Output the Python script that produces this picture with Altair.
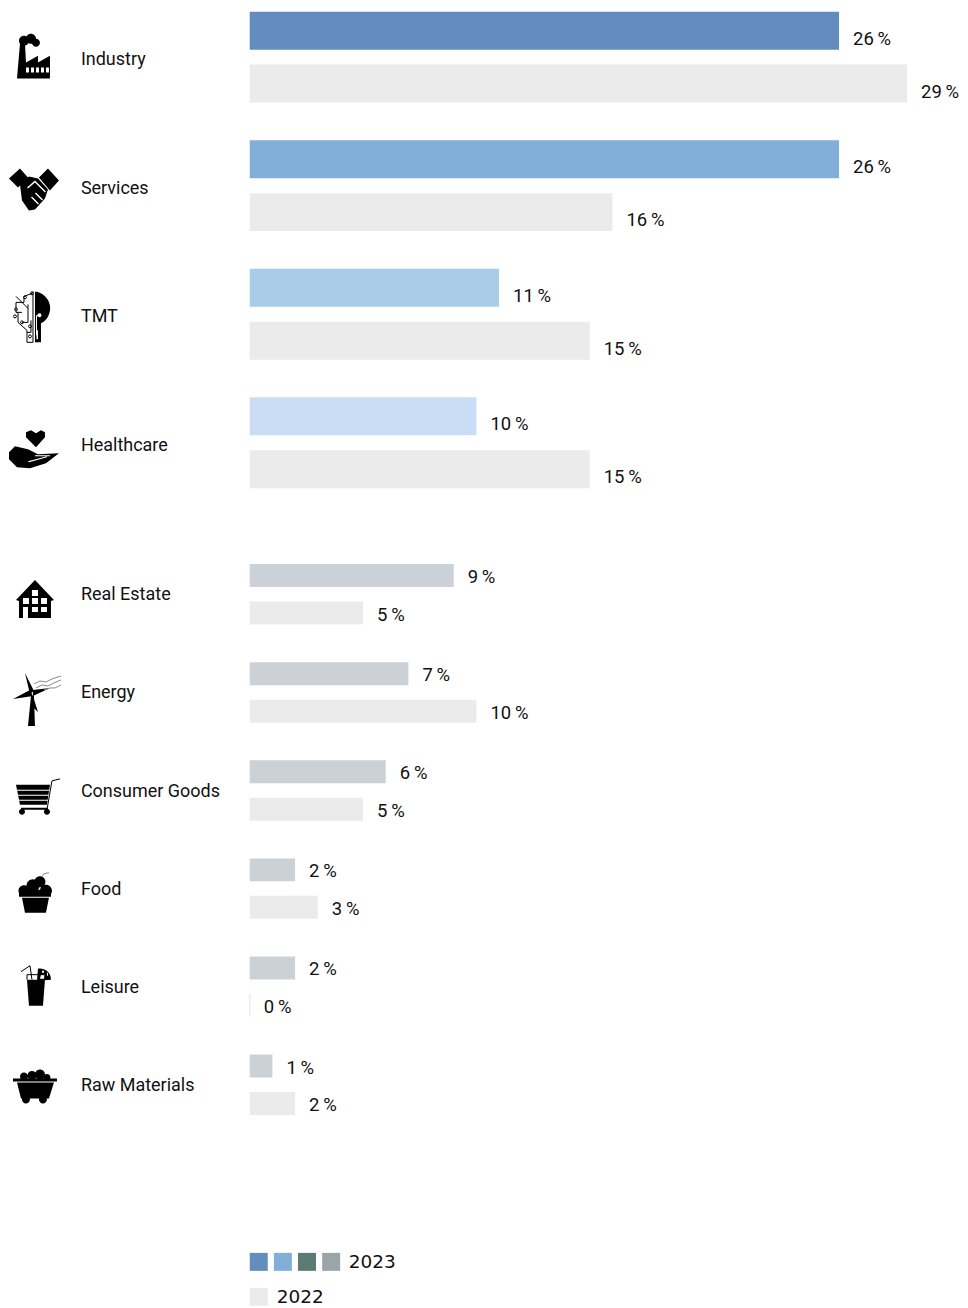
import altair as alt
import pandas as pd

main_categories = ["Industry", "Services", "TMT", "Healthcare"]
main_2023 = [26, 26, 11, 10]
main_2022 = [29, 16, 15, 15]
main_colors = ["#638DBE", "#81AFDA", "#A9CCE9", "#CBDDF4"]

other_categories = ["Real Estate", "Energy", "Consumer Goods", "Food", "Leisure", "Raw Materials"]
other_2023 = [9, 7, 6, 2, 2, 1]
other_2022 = [5, 10, 5, 3, 0, 2]
other_color = "#CBD1D6"
color_2022 = "#EBEBEB"

legend_2023 = ["#638DBE", "#81AFDA", "#5D7B73", "#98A5A9"]
legend_2022 = ["#EBEBEB"]

FONT = "Roboto"
TEXT = "#111111"
ICON_X = 34 - 8
LABEL_X = 81 - 8
X_SCALE = alt.Scale(domain=[0, 29], range=[242, 900])


def poly(cy, pts):
    p = [f"{x - 34} {y - cy}" for x, y in pts]
    return "M" + "L".join(p) + "Z"


def line(cy, pts):
    p = [f"{x - 34} {y - cy}" for x, y in pts]
    return "M" + "L".join(p)


def circ(cy, x, y, r):
    a, b = x - 34, y - cy
    return f"M{a - r} {b}A{r} {r} 0 1 1 {a + r} {b}A{r} {r} 0 1 1 {a - r} {b}Z"


def rect(cy, x0, y0, x1, y1):
    return poly(cy, [(x0, y0), (x1, y0), (x1, y1), (x0, y1)])


ic_black = {}
ic_white = {}
ic_line = {}
ic_gray = {}

c = 56.5
ic_black["Industry"] = poly(c, [(17, 78), (20, 43), (25, 43), (26, 62), (38, 55), (38, 62), (50, 55), (50, 78)]) + circ(c, 24, 40, 5) + circ(c, 31, 38, 5) + circ(c, 36, 42, 4)
ic_white["Industry"] = "".join(rect(c, x, 67, x + 3, 72) for x in (26, 31, 36, 41, 46))
ic_line["Industry"] = ""
ic_gray["Industry"] = ""

c = 185.17
ic_black["Services"] = poly(c, [(9, 178), (20, 168), (28, 177), (18, 187)]) + poly(c, [(39, 177), (48, 168), (59, 180), (50, 190)]) + poly(c, [(20, 184), (29, 176), (38, 178), (48, 189), (45, 198), (35, 209), (29, 210), (22, 200)])
ic_white["Services"] = poly(c, [(27, 187), (35, 180), (46, 191), (45, 192), (35, 182), (28, 188)]) + poly(c, [(36, 192), (43, 199), (42, 200), (35, 193)]) + poly(c, [(32, 196), (39, 203), (38, 204), (31, 197)])
ic_line["Services"] = ""
ic_gray["Services"] = ""

c = 313.83
ic_black["TMT"] = f"M{35 - 34} {291 - c}A17 17 0 0 1 {41 - 34} {323 - c}L{41 - 34} {342 - c}L{35 - 34} {342 - c}Z"
ic_white["TMT"] = rect(c, 36, 315, 39, 316) + rect(c, 36, 316, 37, 335) + circ(c, 39.5, 315, 2) + rect(c, 36.5, 330, 38, 339)
ic_line["TMT"] = (line(c, [(33, 291), (33, 342), (27, 342), (27, 330), (18, 322), (18, 312)]) + line(c, [(32, 293), (24, 296), (24, 302), (16, 302), (16, 312), (22, 312)])
                  + line(c, [(28, 304), (28, 322), (22, 322)]) + line(c, [(31, 320), (31, 332), (27, 332)]) + line(c, [(16, 296), (28, 308)])
                  + circ(c, 32, 293, 1.5) + circ(c, 25, 297, 1.5) + circ(c, 16, 309, 1.5) + circ(c, 15, 316, 1.5) + circ(c, 22, 322, 1.5) + circ(c, 30, 326, 1.5) + circ(c, 30, 336, 1.5))
ic_gray["TMT"] = ""

c = 442.5
ic_black["Healthcare"] = (poly(c, [(36, 447), (26, 437), (26, 432), (31, 430), (36, 433), (41, 430), (45, 432), (45, 437)])
                          + poly(c, [(9, 452), (15, 446), (28, 449), (38, 454), (59, 453), (46, 463), (30, 468), (17, 467), (9, 459)]))
ic_white["Healthcare"] = poly(c, [(35, 455), (50, 455), (50, 456), (35, 456)]) + poly(c, [(28, 461), (47, 456), (47, 457), (29, 462)])
ic_line["Healthcare"] = ""
ic_gray["Healthcare"] = ""

c = 594.25
ic_black["Real Estate"] = poly(c, [(16, 600), (35, 580), (54, 600), (51, 601), (51, 618), (19, 618), (19, 601)])
ic_white["Real Estate"] = (rect(c, 32, 590, 38, 596) + rect(c, 23, 598, 29, 604) + rect(c, 32, 598, 38, 604) + rect(c, 41, 598, 47, 604)
                           + rect(c, 32, 607, 38, 612) + rect(c, 41, 607, 47, 612) + rect(c, 23, 607, 28, 618))
ic_line["Real Estate"] = ""
ic_gray["Real Estate"] = ""

c = 692.45
ic_black["Energy"] = (poly(c, [(25, 673), (34, 691), (30, 694)]) + poly(c, [(13, 699), (30, 690), (33, 696)]) + poly(c, [(50, 688), (33, 696), (33, 690)])
                      + poly(c, [(31, 696), (34, 696), (35, 726), (28, 726)]) + poly(c, [(33, 696), (38, 712), (34, 708)]))
ic_white["Energy"] = ""
ic_line["Energy"] = ""
ic_gray["Energy"] = (line(c, [(34, 684), (40, 681), (46, 682), (52, 679), (61, 676)]) + line(c, [(36, 688), (42, 685), (48, 686), (54, 683), (61, 680)])
                     + line(c, [(44, 690), (50, 688), (55, 688), (61, 685)]))

c = 790.65
ic_black["Consumer Goods"] = poly(c, [(16, 785), (50, 785), (47, 805), (20, 805)]) + circ(c, 22, 812, 3) + circ(c, 47, 812, 3) + rect(c, 21, 808, 48, 810)
ic_white["Consumer Goods"] = rect(c, 16, 790, 50, 791) + rect(c, 16, 795, 50, 796) + rect(c, 16, 800, 50, 801)
ic_line["Consumer Goods"] = line(c, [(60, 779), (52, 781), (47, 810)])
ic_gray["Consumer Goods"] = ""

c = 888.85
ic_black["Food"] = (circ(c, 40, 882, 5.5) + circ(c, 24, 891, 5.5) + circ(c, 33, 886, 6.5) + circ(c, 46, 891, 6) + rect(c, 19, 890, 51, 897)
                    + poly(c, [(22, 898), (49, 898), (46, 913), (25, 913)]))
ic_white["Food"] = ""
ic_line["Food"] = ""
ic_gray["Food"] = line(c, [(42, 877), (44, 874), (49, 873)])

c = 987.05
ic_black["Leisure"] = poly(c, [(27, 980), (45, 980), (43, 1006), (29, 1006)]) + f"M{37 - 34} {981 - c}L{38 - 34} {969 - c}A11 11 0 0 1 {51 - 34} {980 - c}Z"
ic_white["Leisure"] = poly(c, [(41, 975), (45, 975), (44, 979), (40, 979)]) + rect(c, 47, 973, 48, 976) + rect(c, 42, 971, 44, 973)
ic_line["Leisure"] = line(c, [(27, 980), (27, 975), (45, 975), (45, 980)]) + line(c, [(21, 972), (30, 966), (32, 980)])
ic_gray["Leisure"] = ""

c = 1085.25
ic_black["Raw Materials"] = (poly(c, [(17, 1083), (54, 1083), (49, 1099), (21, 1099)]) + circ(c, 26, 1100, 4) + circ(c, 43, 1100, 4) + rect(c, 13, 1079, 57, 1082)
                             + circ(c, 24, 1077, 4) + circ(c, 32, 1076, 4.5) + circ(c, 40, 1075, 5) + circ(c, 47, 1078, 3.5))
ic_white["Raw Materials"] = ""
ic_line["Raw Materials"] = ""
ic_gray["Raw Materials"] = ""


def table(categories, v23, v22):
    rows = []
    for i, cat in enumerate(categories):
        rows.append(dict(category=cat, year="2023", value=v23[i], label=f"{v23[i]}\u2009%", shade=cat))
        rows.append(dict(category=cat, year="2022", value=v22[i], label=f"{v22[i]}\u2009%", shade="2022"))
    return pd.DataFrame(rows)


def panel(categories, v23, v22, colors, height, y0, span, group_pad, bar_pad, font_dy, name_dy):
    df = table(categories, v23, v22)
    y = alt.Y("category:N", axis=None, sort=categories,
              scale=alt.Scale(domain=categories, range=[y0, y0 + span], paddingInner=group_pad, paddingOuter=0))
    yo = alt.YOffset("year:N", sort=["2023", "2022"],
                     scale=alt.Scale(domain=["2023", "2022"], paddingInner=bar_pad, paddingOuter=0))
    x = alt.X("value:Q", axis=None, scale=X_SCALE)
    col = alt.Color("shade:N", legend=None,
                    scale=alt.Scale(domain=categories + ["2022"], range=colors + [color_2022]))
    bars = alt.Chart(df).mark_bar(cornerRadius=0).encode(x=x, y=y, yOffset=yo, color=col)
    values = alt.Chart(df).mark_text(align="left", baseline="middle", dx=14, dy=font_dy, font=FONT, fontSize=18.5, color=TEXT).encode(
        x=x, y=y, yOffset=yo, text="label:N")
    names = pd.DataFrame({
        "category": categories,
        "black": [ic_black[k] for k in categories],
        "white": [ic_white[k] for k in categories],
        "stroke": [ic_line[k] for k in categories],
        "gray": [ic_gray[k] for k in categories],
    })
    cat_labels = alt.Chart(names).mark_text(align="left", baseline="middle", dy=name_dy, font=FONT, fontSize=18, color=TEXT).encode(
        x=alt.value(LABEL_X), y=y, text="category:N")
    black = alt.Chart(names).mark_point(filled=True, size=4, color="#000000", opacity=1).encode(
        x=alt.value(ICON_X), y=y, shape=alt.Shape("black:N", scale=None, legend=None))
    white = alt.Chart(names).transform_filter("datum.white != ''").mark_point(filled=True, size=4, color="#FFFFFF", opacity=1).encode(
        x=alt.value(ICON_X), y=y, shape=alt.Shape("white:N", scale=None, legend=None))
    strokes = alt.Chart(names).transform_filter("datum.stroke != ''").mark_point(filled=False, size=4, color="#000000", strokeWidth=1, opacity=1).encode(
        x=alt.value(ICON_X), y=y, shape=alt.Shape("stroke:N", scale=None, legend=None))
    grays = alt.Chart(names).transform_filter("datum.gray != ''").mark_point(filled=False, size=4, color="#8A8A8A", strokeWidth=1, opacity=1).encode(
        x=alt.value(ICON_X), y=y, shape=alt.Shape("gray:N", scale=None, legend=None))
    zero = alt.Chart(df).transform_filter("datum.value == 0").mark_bar(color=color_2022, stroke=color_2022, strokeWidth=1).encode(x=x, y=y, yOffset=yo)
    layers = [bars, zero, values, cat_labels, black, white, strokes, grays]
    return alt.layer(*layers).resolve_scale(shape="independent").properties(width=952, height=height)


top = panel(main_categories, main_2023, main_2022, main_colors, 553, 0, 477, 0.2928, 0.283, 8, 3)
bottom = panel(other_categories, other_2023, other_2022, [other_color] * len(other_categories), 689, 0, 551.5, 0.384, 0.387, 1.5, 1)

swatches = pd.DataFrame({
    "row": ["2023"] * len(legend_2023) + ["2022"] * len(legend_2022),
    "slot": list(range(len(legend_2023))) + list(range(len(legend_2022))),
    "swatch": legend_2023 + legend_2022,
})
leg_y = alt.Y("row:N", axis=None, sort=["2023", "2022"], scale=alt.Scale(type="point", domain=["2023", "2022"], range=[8.5, 43.5], padding=0))
leg_sw = alt.Chart(swatches).mark_square(size=324, opacity=1).encode(
    x=alt.X("slot:Q", axis=None, scale=alt.Scale(domain=[0, 3], range=[251, 323.5])),
    y=leg_y,
    color=alt.Color("swatch:N", scale=None, legend=None),
)
leg_a = alt.Chart(pd.DataFrame({"row": ["2023"]})).mark_text(align="left", baseline="middle", font="DejaVu Sans", fontSize=18.5, color=TEXT).encode(
    x=alt.value(341), y=leg_y, text="row:N")
leg_b = alt.Chart(pd.DataFrame({"row": ["2022"]})).mark_text(align="left", baseline="middle", font="DejaVu Sans", fontSize=18.5, color=TEXT).encode(
    x=alt.value(269), y=leg_y, text="row:N")
legend = alt.layer(leg_sw, leg_a, leg_b).properties(width=952, height=52)

chart = alt.vconcat(top, bottom, legend, spacing=0).resolve_scale(color="independent", yOffset="independent").properties(
    padding={"left": 0, "top": 3, "right": 0, "bottom": 0}, background="white"
).configure_view(stroke=None)

chart.save("out.html", embed_options={"renderer": "svg", "actions": False})
